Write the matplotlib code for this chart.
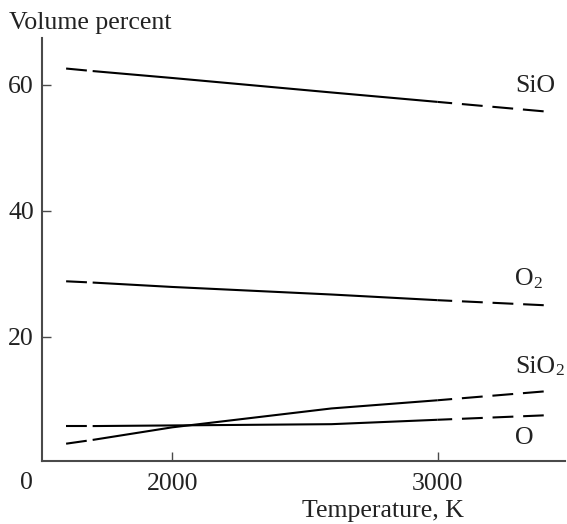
import matplotlib
matplotlib.use("Agg")
import matplotlib.pyplot as plt

plt.rcParams['font.family'] = ['Liberation Serif', 'DejaVu Serif']

# ---- data ----
temperature = [1600, 1700, 2000, 2600, 3000, 3400]
sio = [62.6, 62.2, 61.1, 58.8, 57.3, 55.8]
o2 = [28.8, 28.6, 27.9, 26.7, 25.8, 25.0]
sio2 = [3.0, 3.6, 5.6, 8.6, 9.9, 11.3]
o = [5.8, 5.8, 5.9, 6.1, 6.8, 7.5]
series_names = ['SiO', 'O', 'SiO', 'O']
series_subscripts = ['', '2', '2', '']
series_values = [sio, o2, sio2, o]
label_offsets = [13.6, 14.5, 13.6, -20.8]   # vertical offsets of labels, points

x_ticks = [2000, 3000]
y_ticks = [20, 40, 60]

TEXT = '#222222'
AXC = '#4a4a4a'
FS = 18.6
FS_SUB = 12.5

fig = plt.figure(figsize=(5.67, 5.24), dpi=100)
ax = fig.add_axes([41.7/567, 1 - 461/524, 1 - 41.7/567 - 1.5/567, (461 - 37.7)/524])

for vals, name, sub, dy in zip(series_values, series_names, series_subscripts, label_offsets):
    ax.plot(temperature[:2], vals[:2], color='black', lw=1.5, linestyle=(0, (10, 4.7)),
            dash_capstyle='butt')
    ax.plot(temperature[1:5], vals[1:5], color='black', lw=1.5,
            solid_capstyle='butt')
    ax.plot(temperature[4:], vals[4:], color='black', lw=1.5, linestyle=(3, (10, 4.7)),
            dash_capstyle='butt')
    main = ax.annotate(name, xy=(temperature[-1], vals[-1]), xytext=(-20.6, dy),
                       textcoords='offset points', ha='left', va='baseline',
                       fontsize=FS, color=TEXT)
    if sub:
        ax.annotate(sub, xy=(1, 0), xycoords=main, xytext=(0, 1.5),
                    textcoords='offset points', ha='left', va='baseline',
                    fontsize=FS_SUB, color=TEXT)

ax.set_xlim(1508, 3482)
ax.set_ylim(0.25, 67.5)
ax.set_xticks(x_ticks)
ax.set_yticks(y_ticks)
ax.set_xticklabels([str(t) for t in x_ticks])
ax.set_yticklabels([str(t) for t in y_ticks])

for s in ['top', 'right']:
    ax.spines[s].set_visible(False)
for s in ['left', 'bottom']:
    ax.spines[s].set_linewidth(1.5)
    ax.spines[s].set_color(AXC)

ax.tick_params(axis='both', direction='in', length=6.5, width=1.0, color=AXC,
               labelsize=FS, labelcolor=TEXT)
ax.tick_params(axis='y', pad=5.5)
ax.tick_params(axis='x', pad=9)

ax.annotate('0', xy=(0, 0), xycoords='axes fraction', xytext=(-10.8, -15.6),
            textcoords='offset points', ha='center', va='center',
            fontsize=FS, color=TEXT)

fig.text(9.3/567, 1 - 29.3/524, 'Volume percent', ha='left', va='baseline',
         fontsize=FS, color=TEXT)
fig.text(464/567, 1 - 516.7/524, 'Temperature, K', ha='right', va='baseline',
         fontsize=FS, color=TEXT)

fig.savefig('out.png', dpi=100, facecolor='white')
